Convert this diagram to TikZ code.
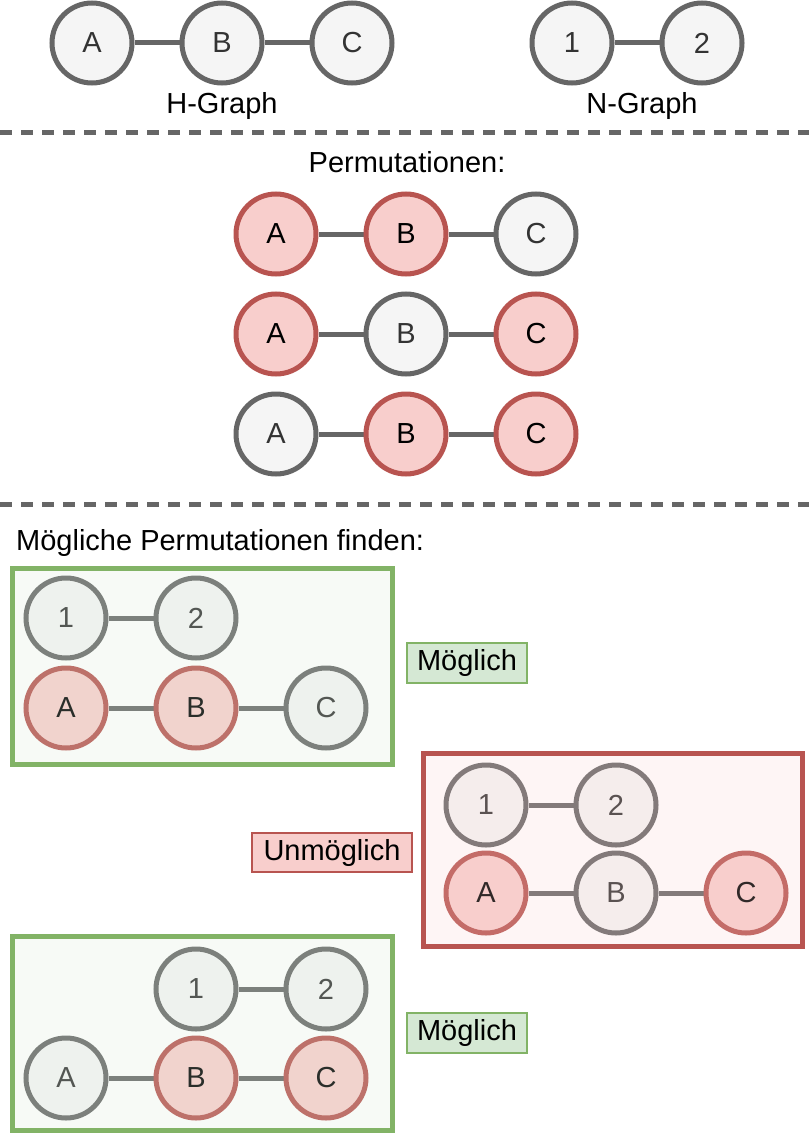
\documentclass[tikz,border=0pt]{standalone}
\usepackage{fontspec}
\setmainfont{Liberation Sans}
\usetikzlibrary{backgrounds}

\definecolor{grayline}{HTML}{666666}
\definecolor{grayfill}{HTML}{F5F5F5}
\definecolor{graytext}{HTML}{333333}
\definecolor{redline}{HTML}{B85450}
\definecolor{redfill}{HTML}{F8CECC}
\definecolor{greenline}{HTML}{82B366}
\definecolor{greenfill}{HTML}{D5E8D4}

\newcommand{\bigfont}{\fontsize{29}{34}\selectfont}

\begin{document}
\begin{tikzpicture}[
        x=1pt, y=-1pt,
        vertex/.style={
            circle,
            draw=grayline,
            fill=grayfill,
            text=graytext,
            line width=5pt,
            minimum size=80pt,
            inner sep=0pt,
            font=\bigfont
        },
        picked/.style={draw=redline, fill=redfill, text=black},
        plain/.style={},
        link/.style={draw=grayline, line width=5pt},
        caption/.style={anchor=base, font=\bigfont, inner sep=0pt},
        separator/.style={draw=grayline, line width=5pt, dash pattern=on 12pt off 9pt},
        verdict/.style={draw, line width=1.3pt, minimum height=40pt, inner sep=0pt, font=\bigfont},
        frame/.style={line width=5pt, fill opacity=0.2, inner sep=0pt}
    ]
        \useasboundingbox (0,0) rectangle (809,1134);

        % source graphs
        \node[vertex] (hA) at (92,43) {A};
        \node[vertex] (hB) at (222,43) {B};
        \node[vertex] (hC) at (352,43) {C};
        \node[vertex] (n1) at (572,43) {1};
        \node[vertex] (n2) at (702,43) {2};
        \node[caption] (hname) at (222,114) {H-Graph};
        \node[caption] (nname) at (642,114) {N-Graph};
        \begin{scope}[on background layer]
            \draw[link] (hA) -- (hB);
            \draw[link] (hB) -- (hC);
            \draw[link] (n1) -- (n2);
        \end{scope}

        \coordinate (sepA1) at (0,133);
        \coordinate (sepA2) at (809,133);
        \draw[separator] (sepA1) -- (sepA2);

        % permutations
        \node[caption] (permtitle) at (407,173) {Permutationen:};
        \foreach \row/\y/\sa/\sb/\sc in {1/234/picked/picked/plain, 2/334/picked/plain/picked, 3/434/plain/picked/picked} {
            \node[vertex, \sa] (p\row A) at (276,\y) {A};
            \node[vertex, \sb] (p\row B) at (406,\y) {B};
            \node[vertex, \sc] (p\row C) at (536,\y) {C};
            \begin{scope}[on background layer]
                \draw[link] (p\row A) -- (p\row B);
                \draw[link] (p\row B) -- (p\row C);
            \end{scope}
        }

        \coordinate (sepB1) at (0,504);
        \coordinate (sepB2) at (809,504);
        \draw[separator] (sepB1) -- (sepB2);

        % matching
        \node[caption, anchor=base west] (findtitle) at (16,550) {Mögliche Permutationen finden:};

        \node[vertex] (a1) at (66,618) {1};
        \node[vertex] (a2) at (196,618) {2};
        \node[vertex, picked] (aA) at (66,708) {A};
        \node[vertex, picked] (aB) at (196,708) {B};
        \node[vertex] (aC) at (326,708) {C};

        \node[vertex] (b1) at (486,805) {1};
        \node[vertex] (b2) at (616,805) {2};
        \node[vertex, picked] (bA) at (486,893) {A};
        \node[vertex] (bB) at (616,893) {B};
        \node[vertex, picked] (bC) at (746,893) {C};

        \node[vertex] (c1) at (196,989) {1};
        \node[vertex] (c2) at (326,989) {2};
        \node[vertex] (cA) at (66,1078) {A};
        \node[vertex, picked] (cB) at (196,1078) {B};
        \node[vertex, picked] (cC) at (326,1078) {C};

        \begin{scope}[on background layer]
            \foreach \g in {a,b,c} {
                \draw[link] (\g1) -- (\g2);
                \draw[link] (\g A) -- (\g B);
                \draw[link] (\g B) -- (\g C);
            }
        \end{scope}

        \node[frame, draw=greenline, fill=greenfill, minimum width=380pt, minimum height=196pt] (frameA) at (202.5,666.5) {};
        \node[frame, draw=redline, fill=redfill, minimum width=379pt, minimum height=193pt] (frameB) at (613,850) {};
        \node[frame, draw=greenline, fill=greenfill, minimum width=380pt, minimum height=194pt] (frameC) at (202.5,1033.5) {};

        \node[verdict, draw=greenline, fill=greenfill, minimum width=120pt] (okA) at (467,663) {Möglich};
        \node[verdict, draw=redline, fill=redfill, minimum width=160pt, minimum height=39pt] (notB) at (332,852.5) {Unmöglich};
        \node[verdict, draw=greenline, fill=greenfill, minimum width=120pt] (okC) at (467,1033) {Möglich};
    \end{tikzpicture}
\end{document}
